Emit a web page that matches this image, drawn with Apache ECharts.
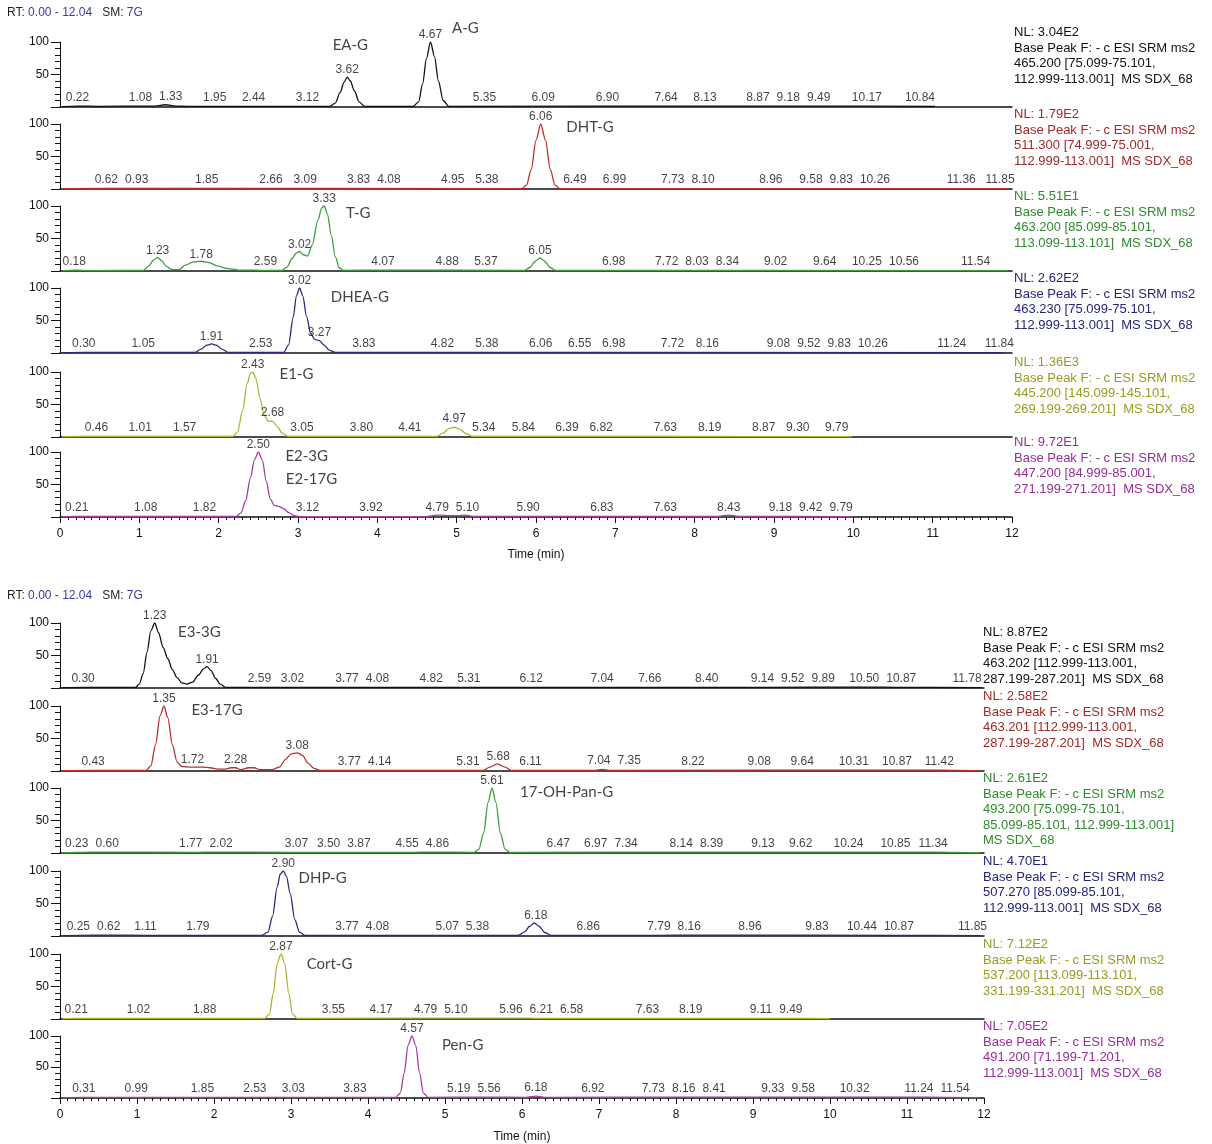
<!DOCTYPE html>
<html>
<head>
<meta charset="utf-8">
<script src="https://cdn.jsdelivr.net/npm/echarts@6/dist/echarts.min.js"></script>
<style>
html, body { margin: 0; padding: 0; background: #fff; }
#chart { width: 1212px; height: 1144px; }
</style>
</head>
<body>
<div id="chart"></div>
<script>
// retention time (min), relative abundance (%)
const traceAG = [[0.03,0.5],[0.22,1.5],[0.5,1],[1.08,1.5],[1.2,1.5],[1.33,3.5],[1.46,1.5],[1.6,1],[3.40,1],[3.47,6],[3.53,22],[3.58,38],[3.62,46],[3.66,40],[3.71,25],[3.77,8],[3.84,1],[4.45,1],[4.52,8],[4.57,35],[4.62,75],[4.67,100],[4.72,78],[4.77,40],[4.83,10],[4.90,1],[8.87,1.5],[9.49,1.5],[11.03,1]];
const traceDHT = [[0.03,0.5],[0.93,1],[5.82,0.5],[5.88,6],[5.94,30],[6.00,75],[6.06,100],[6.12,75],[6.18,30],[6.24,6],[6.30,0.5],[11.95,0.5]];
const traceT = [[0.03,0.5],[0.18,1.5],[0.4,0.5],[1.05,1],[1.12,8],[1.18,17],[1.23,21],[1.28,16],[1.34,7],[1.41,2],[1.50,2],[1.58,9],[1.68,14],[1.78,15],[1.88,13],[1.98,8],[2.10,4],[2.25,1.5],[2.59,1],[2.80,1],[2.86,6],[2.93,20],[2.98,28],[3.02,30],[3.07,25],[3.12,23],[3.18,40],[3.25,78],[3.30,97],[3.33,100],[3.37,88],[3.42,55],[3.47,22],[3.52,5],[3.57,1],[4.07,1.5],[5.85,1],[5.92,5],[5.99,15],[6.05,20],[6.11,15],[6.18,5],[6.25,1],[11.95,0.5]];
const traceDHEA = [[0.03,0.5],[0.30,1],[1.05,1],[1.70,1],[1.78,6],[1.85,12],[1.91,14],[1.97,12],[2.04,6],[2.12,1],[2.82,1],[2.88,12],[2.94,55],[2.98,88],[3.02,100],[3.06,88],[3.11,55],[3.16,30],[3.21,21],[3.27,19],[3.33,12],[3.40,4],[3.47,1],[11.9,0.5]];
const traceE1 = [[0.03,0.5],[0.46,1],[2.18,1],[2.24,8],[2.30,40],[2.36,82],[2.40,98],[2.43,100],[2.47,90],[2.52,60],[2.57,35],[2.62,25],[2.68,24],[2.74,16],[2.80,6],[2.87,1],[3.05,1],[4.41,1],[4.75,1],[4.83,6],[4.90,13],[4.97,15],[5.04,12],[5.12,5],[5.20,1],[5.84,1],[9.98,0.5]];
const traceE2 = [[0.03,0.5],[0.21,1],[2.22,1],[2.28,6],[2.34,25],[2.40,60],[2.45,88],[2.50,100],[2.55,88],[2.60,55],[2.65,28],[2.70,18],[2.76,16],[2.82,13],[2.88,7],[2.95,2],[3.02,0.5],[4.6,0.5],[4.72,2.5],[4.79,3],[4.90,2],[5.00,2],[5.10,3],[5.20,1],[8.30,1],[8.43,3],[8.55,1],[9.98,0.5]];
const traceE33G = [[0.03,0.5],[0.30,1],[0.98,1],[1.03,6],[1.08,22],[1.13,55],[1.18,88],[1.23,100],[1.28,85],[1.34,62],[1.40,45],[1.46,28],[1.52,16],[1.58,8],[1.65,6],[1.72,9],[1.80,20],[1.86,29],[1.91,33],[1.96,27],[2.02,15],[2.08,6],[2.15,1],[2.59,1],[3.77,1],[9.14,1],[10.50,1.5],[10.87,1],[11.97,0.5]];
const traceE317G = [[0.03,0.5],[0.43,1],[1.12,1],[1.18,8],[1.24,40],[1.30,85],[1.35,100],[1.40,82],[1.46,40],[1.52,14],[1.58,7],[1.70,6],[1.85,6],[1.95,5],[2.05,3],[2.15,3],[2.22,5],[2.28,5],[2.35,2],[2.45,5],[2.52,5],[2.60,2],[2.75,2],[2.85,6],[2.93,18],[3.00,26],[3.08,28],[3.15,24],[3.22,12],[3.30,4],[3.38,1],[3.77,1],[5.31,1],[5.50,1],[5.58,6],[5.68,11],[5.78,6],[5.86,1],[6.11,1],[6.95,1],[7.04,2.5],[7.13,1],[11.42,1.5],[11.95,0.5]];
const trace17OH = [[0.03,0.5],[0.23,1],[0.60,1.5],[1.77,1],[2.02,1.5],[3.07,1],[4.55,1],[4.86,1.5],[5.38,1],[5.44,6],[5.50,30],[5.56,78],[5.61,100],[5.66,78],[5.72,30],[5.78,6],[5.84,1],[8.39,1.5],[11.34,1.5],[11.95,0.5]];
const traceDHP = [[0.03,0.5],[0.25,1],[0.62,1.5],[1.11,1],[1.79,1],[2.62,1],[2.70,6],[2.76,30],[2.82,75],[2.86,95],[2.90,100],[2.94,92],[2.99,65],[3.05,25],[3.11,6],[3.18,1],[3.77,1],[4.08,1],[5.07,1],[5.95,1],[6.03,6],[6.10,15],[6.16,20],[6.22,15],[6.30,5],[6.38,1],[6.86,1],[7.79,1],[8.16,1.5],[10.87,1],[11.95,0.5]];
const traceCort = [[0.03,0.5],[0.21,1],[2.66,1],[2.72,8],[2.77,40],[2.82,85],[2.87,100],[2.92,85],[2.97,40],[3.02,8],[3.08,1],[5.96,1.5],[6.21,1],[9.49,1],[10.0,0.5]];
const tracePen = [[0.03,0.5],[0.31,1],[4.36,1],[4.42,8],[4.47,40],[4.52,85],[4.57,100],[4.62,85],[4.67,40],[4.72,8],[4.78,1],[5.56,1.5],[6.05,1],[6.18,3],[6.30,1],[8.41,1.5],[9.33,1.5],[11.24,1.5],[11.95,0.5]];

// annotated retention times [rt, abundance at label]
const rtAG = [[0.22,3],[1.08,3],[1.33,5],[1.95,3],[2.44,3],[3.12,3],[3.62,46],[4.67,100],[5.35,3],[6.09,3],[6.90,3],[7.64,3],[8.13,3],[8.87,3],[9.18,3],[9.49,3],[10.17,3],[10.84,3]];
const rtDHT = [[0.62,3],[0.93,3],[1.85,3],[2.66,3],[3.09,3],[3.83,3],[4.08,3],[4.95,3],[5.38,3],[6.06,100],[6.49,3],[6.99,3],[7.73,3],[8.10,3],[8.96,3],[9.58,3],[9.83,3],[10.26,3],[11.36,3],[11.85,3]];
const rtT = [[0.18,3],[1.23,21],[1.78,15],[2.59,3],[3.02,30],[3.33,100],[4.07,3],[4.88,3],[5.37,3],[6.05,20],[6.98,3],[7.72,3],[8.03,3],[8.34,3],[9.02,3],[9.64,3],[10.25,3],[10.56,3],[11.54,3]];
const rtDHEA = [[0.30,3],[1.05,3],[1.91,14],[2.53,3],[3.02,100],[3.27,20],[3.83,3],[4.82,3],[5.38,3],[6.06,3],[6.55,3],[6.98,3],[7.72,3],[8.16,3],[9.08,3],[9.52,3],[9.83,3],[10.26,3],[11.24,3],[11.84,3]];
const rtE1 = [[0.46,3],[1.01,3],[1.57,3],[2.43,100],[2.68,27],[3.05,3],[3.80,3],[4.41,3],[4.97,17],[5.34,3],[5.84,3],[6.39,3],[6.82,3],[7.63,3],[8.19,3],[8.87,3],[9.30,3],[9.79,3]];
const rtE2 = [[0.21,3],[1.08,3],[1.82,3],[2.50,100],[3.12,3],[3.92,3],[4.79,3],[5.10,3],[5.90,3],[6.83,3],[7.63,3],[8.43,3],[9.18,3],[9.42,3],[9.79,3]];
const rtE33G = [[0.30,3],[1.23,100],[1.91,33],[2.59,3],[3.02,3],[3.77,3],[4.08,3],[4.82,3],[5.31,3],[6.12,3],[7.04,3],[7.66,3],[8.40,3],[9.14,3],[9.52,3],[9.89,3],[10.50,3],[10.87,3],[11.78,3]];
const rtE317G = [[0.43,3],[1.35,100],[1.72,7],[2.28,7],[3.08,28],[3.77,3],[4.14,3],[5.31,3],[5.68,12],[6.11,3],[7.04,5],[7.35,5],[8.22,3],[9.08,3],[9.64,3],[10.31,3],[10.87,3],[11.42,3]];
const rt17OH = [[0.23,3],[0.60,3],[1.77,3],[2.02,3],[3.07,3],[3.50,3],[3.87,3],[4.55,3],[4.86,3],[5.61,100],[6.47,3],[6.97,3],[7.34,3],[8.14,3],[8.39,3],[9.13,3],[9.62,3],[10.24,3],[10.85,3],[11.34,3]];
const rtDHP = [[0.25,3],[0.62,3],[1.11,3],[1.79,3],[2.90,100],[3.77,3],[4.08,3],[5.07,3],[5.38,3],[6.18,20],[6.86,3],[7.79,3],[8.16,3],[8.96,3],[9.83,3],[10.44,3],[10.87,3],[11.85,3]];
const rtCort = [[0.21,3],[1.02,3],[1.88,3],[2.87,100],[3.55,3],[4.17,3],[4.79,3],[5.10,3],[5.96,3],[6.21,3],[6.58,3],[7.63,3],[8.19,3],[9.11,3],[9.49,3]];
const rtPen = [[0.31,3],[0.99,3],[1.85,3],[2.53,3],[3.03,3],[3.83,3],[4.57,100],[5.19,3],[5.56,3],[6.18,5],[6.92,3],[7.73,3],[8.16,3],[8.41,3],[9.33,3],[9.58,3],[10.32,3],[11.24,3],[11.54,3]];

// compound names, anchored in each panel's own coordinates
const compoundTags = [
  [['EA-G', 3.66, 95], ['A-G', 5.11, 122]],
  [['DHT-G', 6.68, 95]],
  [['T-G', 3.76, 89]],
  [['DHEA-G', 3.78, 86]],
  [['E1-G', 2.98, 97]],
  [['E2-3G', 3.11, 94], ['E2-17G', 3.17, 58]],
  [['E3-3G', 1.81, 86]],
  [['E3-17G', 2.04, 94]],
  [['17-OH-Pan-G', 6.58, 94]],
  [['DHP-G', 3.41, 89]],
  [['Cort-G', 3.50, 85]],
  [['Pen-G', 5.23, 86]]
];

const scanInfo = [
  ['NL: 3.04E2', 'Base Peak F: - c ESI SRM ms2', '465.200 [75.099-75.101,', '112.999-113.001]  MS SDX_68'],
  ['NL: 1.79E2', 'Base Peak F: - c ESI SRM ms2', '511.300 [74.999-75.001,', '112.999-113.001]  MS SDX_68'],
  ['NL: 5.51E1', 'Base Peak F: - c ESI SRM ms2', '463.200 [85.099-85.101,', '113.099-113.101]  MS SDX_68'],
  ['NL: 2.62E2', 'Base Peak F: - c ESI SRM ms2', '463.230 [75.099-75.101,', '112.999-113.001]  MS SDX_68'],
  ['NL: 1.36E3', 'Base Peak F: - c ESI SRM ms2', '445.200 [145.099-145.101,', '269.199-269.201]  MS SDX_68'],
  ['NL: 9.72E1', 'Base Peak F: - c ESI SRM ms2', '447.200 [84.999-85.001,', '271.199-271.201]  MS SDX_68'],
  ['NL: 8.87E2', 'Base Peak F: - c ESI SRM ms2', '463.202 [112.999-113.001,', '287.199-287.201]  MS SDX_68'],
  ['NL: 2.58E2', 'Base Peak F: - c ESI SRM ms2', '463.201 [112.999-113.001,', '287.199-287.201]  MS SDX_68'],
  ['NL: 2.61E2', 'Base Peak F: - c ESI SRM ms2', '493.200 [75.099-75.101,', '85.099-85.101, 112.999-113.001]', 'MS SDX_68'],
  ['NL: 4.70E1', 'Base Peak F: - c ESI SRM ms2', '507.270 [85.099-85.101,', '112.999-113.001]  MS SDX_68'],
  ['NL: 7.12E2', 'Base Peak F: - c ESI SRM ms2', '537.200 [113.099-113.101,', '331.199-331.201]  MS SDX_68'],
  ['NL: 7.05E2', 'Base Peak F: - c ESI SRM ms2', '491.200 [71.199-71.201,', '112.999-113.001]  MS SDX_68']
];

const traces = [traceAG, traceDHT, traceT, traceDHEA, traceE1, traceE2, traceE33G, traceE317G, trace17OH, traceDHP, traceCort, tracePen];
const rtMarks = [rtAG, rtDHT, rtT, rtDHEA, rtE1, rtE2, rtE33G, rtE317G, rt17OH, rtDHP, rtCort, rtPen];

const lineColors = ['#111111', '#b8302c', '#3a9d3a', '#28287e', '#b2b232', '#a63aa6'];
const textColors = ['#111111', '#a02a28', '#2e8a2e', '#25257a', '#9a9a22', '#962e96'];
const baselines = [107, 189, 271, 353, 437, 517, 688, 771, 853, 936, 1019, 1101];
const FONT = '"Liberation Sans", Arial, sans-serif';
const LABEL_SIZE = 12;

const measureCtx = document.createElement('canvas').getContext('2d');
measureCtx.font = LABEL_SIZE + 'px ' + FONT;

// spread baseline rt labels sideways like the instrument software does
function labelOffsets(marks, pxPerMin) {
  const gap = 7;
  const offsets = marks.map(() => 0);
  const row = marks
    .map((m, i) => ({ i, x: m[0] * pxPerMin, w: measureCtx.measureText(m[0].toFixed(2)).width }))
    .filter(it => marks[it.i][1] <= 13);
  let clusters = row.map(it => ({ items: [it] }));
  const place = c => {
    const anchor = c.items.reduce((s, it) => s + it.x, 0) / c.items.length;
    const width = c.items.reduce((s, it) => s + it.w, 0) + gap * (c.items.length - 1);
    c.left = anchor - width / 2;
    c.right = anchor + width / 2;
  };
  clusters.forEach(place);
  let merged = true;
  while (merged) {
    merged = false;
    for (let j = 1; j < clusters.length; j++) {
      if (clusters[j].left < clusters[j - 1].right + gap) {
        clusters[j - 1].items = clusters[j - 1].items.concat(clusters[j].items);
        place(clusters[j - 1]);
        clusters.splice(j, 1);
        merged = true;
        break;
      }
    }
  }
  clusters.forEach(c => {
    let x = c.left;
    c.items.forEach(it => {
      offsets[it.i] = x + it.w / 2 - it.x;
      x += it.w + gap;
    });
  });
  return offsets;
}

const chart = echarts.init(document.getElementById('chart'));

const grids = [], xAxes = [], yAxes = [], series = [], graphics = [];

traces.forEach((trace, k) => {
  const group = k < 6 ? 0 : 1;
  const row = k % 6;
  const last = row === 5;
  const color = lineColors[row];
  const plotW = group === 0 ? 952 : 924;

  grids.push({ left: 60, top: baselines[k] - 65, width: plotW, height: 65 });

  xAxes.push({
    gridIndex: k, type: 'value', min: 0, max: 12, interval: 1,
    axisLine: { show: true, onZero: false, lineStyle: { color: '#111', width: 1.5 } },
    axisTick: { show: last, length: 6, lineStyle: { color: '#111' } },
    minorTick: { show: last, splitNumber: 10, length: 3, lineStyle: { color: '#111' } },
    axisLabel: { show: last, fontSize: 12, color: '#111', margin: 11, fontFamily: FONT },
    splitLine: { show: false },
    name: last ? 'Time (min)' : '',
    nameLocation: 'middle', nameGap: group === 0 ? 32 : 33,
    nameTextStyle: { fontSize: 12, color: '#111', fontFamily: FONT }
  });

  yAxes.push({
    gridIndex: k, type: 'value', min: 0, max: 100, interval: 50,
    axisLine: { show: true, lineStyle: { color: '#111', width: 1 } },
    axisTick: { show: true, length: 9, lineStyle: { color: '#111' } },
    minorTick: { show: true, splitNumber: 5, length: 5, lineStyle: { color: '#111' } },
    axisLabel: { fontSize: 12, color: '#111', margin: 11, fontFamily: FONT,
      formatter: v => (v === 0 ? '' : v) },
    splitLine: { show: false }
  });

  series.push({
    type: 'line', xAxisIndex: k, yAxisIndex: k, data: trace,
    smooth: 0.3, smoothMonotone: 'x', showSymbol: false, silent: true,
    lineStyle: { color: color, width: 1.3 }, z: 3
  });

  const offs = labelOffsets(rtMarks[k], plotW / 12);
  series.push({
    type: 'scatter', xAxisIndex: k, yAxisIndex: k,
    data: rtMarks[k].map((m, i) => ({ value: m, label: { offset: [offs[i], 0] } })),
    symbolSize: 0, clip: false, silent: true, z: 4,
    label: { show: true, position: 'top', distance: 1, fontSize: LABEL_SIZE, color: '#111',
      fontFamily: FONT, formatter: p => p.value[0].toFixed(2) }
  });

  series.push({
    type: 'scatter', xAxisIndex: k, yAxisIndex: k, symbolSize: 0, clip: false, silent: true, z: 4,
    data: compoundTags[k].map(t => ({ name: t[0], value: [t[1], t[2]] })),
    label: { show: true, position: 'inside', formatter: '{b}', fontSize: 15,
      color: '#111', fontFamily: 'Lato, "Open Sans", sans-serif' }
  });

  const infoX = group === 0 ? 1014 : 983;
  const nlY = k === 6 ? baselines[k] - 63 : baselines[k] - 82;
  graphics.push({
    type: 'text', left: infoX, top: nlY,
    style: { text: scanInfo[k].join('\n'), fill: textColors[row], font: '13px ' + FONT, lineHeight: 15.5 }
  });
});

[7, 590].forEach(y => {
  graphics.push({
    type: 'text', left: 7, top: y,
    style: {
      text: '{a|RT: }{b|0.00 - 12.04}{a|   SM: }{b|7G}',
      font: '12px ' + FONT,
      rich: {
        a: { fill: '#222', fontSize: 12, fontFamily: FONT },
        b: { fill: '#3a3aa6', fontSize: 12, fontFamily: FONT }
      }
    }
  });
});

chart.setOption({
  backgroundColor: '#fff',
  animation: false,
  grid: grids,
  xAxis: xAxes,
  yAxis: yAxes,
  series: series,
  graphic: graphics
});
</script>
</body>
</html>
